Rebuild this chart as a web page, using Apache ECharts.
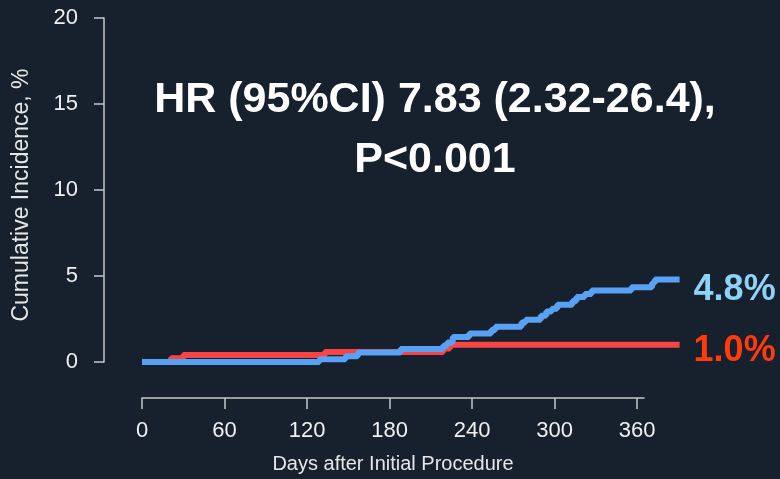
<!DOCTYPE html>
<html>
<head>
<meta charset="utf-8">
<script src="https://cdn.jsdelivr.net/npm/echarts@6/dist/echarts.min.js"></script>
<style>
  html, body { margin: 0; padding: 0; background: #17202d; }
  #chart { width: 780px; height: 479px; }
</style>
</head>
<body>
<div id="chart"></div>
<script>
// step points (day, cumulative %)
const blueDays = [0, 129, 148, 157, 188, 219, 222, 226, 238, 254, 257, 276, 279, 290, 294, 298, 302, 313, 316, 322, 327, 356, 371, 373, 391];
const blueValues = [0, 0.16, 0.33, 0.55, 0.76, 0.94, 1.13, 1.45, 1.66, 1.86, 2.05, 2.3, 2.46, 2.69, 2.94, 3.1, 3.33, 3.55, 3.78, 3.96, 4.16, 4.35, 4.6, 4.8, 4.8];
const redDays = [0, 21, 30, 133, 219, 224, 391];
const redValues = [0, 0.22, 0.4, 0.58, 0.78, 1.0, 1.0];

const xTicks = [0, 60, 120, 180, 240, 300, 360];
const yTicks = [0, 5, 10, 15, 20];

const titleLine1 = "HR (95%CI) 7.83 (2.32-26.4),";
const titleLine2 = "P<0.001";

const font = "'Liberation Sans', Arial, sans-serif";

const toPairs = (days, vals) => days.map((d, i) => [d, vals[i]]);

const chart = echarts.init(document.getElementById("chart"));

const option = {
  backgroundColor: "#17202d",
  animation: false,
  grid: [
    // data area: curves run a little past the drawn x axis
    { left: 142, width: 538, top: 18, height: 344 },
    // axis-only grid, 0..365 days
    { left: 142, width: 502, top: 18, height: 344 },
  ],
  xAxis: [
    { gridIndex: 0, type: "value", min: 0, max: 391.3, show: false },
    {
      gridIndex: 1,
      type: "value",
      min: 0,
      max: 365,
      offset: 39,
      splitLine: { show: false },
      axisLine: { show: true, onZero: false, lineStyle: { color: "#c8c8c8", width: 1.5 } },
      axisTick: { show: true, length: 11, customValues: xTicks, lineStyle: { color: "#c8c8c8", width: 1.5 } },
      axisLabel: { customValues: xTicks, margin: 22, color: "#f0f0f0", fontSize: 22, fontFamily: font },
      name: "Days after Initial Procedure",
      nameLocation: "middle",
      nameGap: 56,
      nameTextStyle: { color: "#e6e6e6", fontSize: 20, fontFamily: font },
    },
  ],
  yAxis: [
    {
      gridIndex: 0,
      type: "value",
      min: 0,
      max: 20,
      offset: 38,
      splitLine: { show: false },
      axisLine: { show: true, onZero: false, lineStyle: { color: "#c8c8c8", width: 1.5 } },
      axisTick: { show: true, length: 10, customValues: yTicks, lineStyle: { color: "#c8c8c8", width: 1.5 } },
      axisLabel: { customValues: yTicks, margin: 26, color: "#f0f0f0", fontSize: 22, fontFamily: font },
      name: "Cumulative Incidence, %",
      nameLocation: "middle",
      nameGap: 71,
      nameTextStyle: { color: "#e6e6e6", fontSize: 23, fontFamily: font, padding: [0, 10, 0, 0] },
    },
    { gridIndex: 1, type: "value", min: 0, max: 20, show: false },
  ],
  series: [
    {
      name: "red",
      type: "line",
      step: "end",
      xAxisIndex: 0,
      yAxisIndex: 0,
      showSymbol: false,
      data: toPairs(redDays, redValues),
      lineStyle: { color: "#f74444", width: 6 },
      endLabel: {
        show: true,
        distance: 14,
        offset: [0, 6],
        formatter: (p) => p.value[1].toFixed(1) + "%",
        color: "#ff3b0e",
        fontSize: 36,
        fontWeight: "bold",
        fontFamily: font,
      },
    },
    {
      name: "blue",
      type: "line",
      step: "end",
      xAxisIndex: 0,
      yAxisIndex: 0,
      showSymbol: false,
      data: toPairs(blueDays, blueValues),
      lineStyle: { color: "#58a1f4", width: 6 },
      endLabel: {
        show: true,
        distance: 14,
        offset: [0, 11],
        formatter: (p) => p.value[1].toFixed(1) + "%",
        color: "#8fd2f7",
        fontSize: 36,
        fontWeight: "bold",
        fontFamily: font,
      },
    },
  ],
  graphic: [
    {
      type: "text",
      x: 435,
      y: 100,
      style: {
        text: titleLine1,
        fill: "#ffffff",
        font: "bold 43px " + font,
        textAlign: "center",
        textVerticalAlign: "middle",
      },
    },
    {
      type: "text",
      x: 435,
      y: 160,
      style: {
        text: titleLine2,
        fill: "#ffffff",
        font: "bold 43px " + font,
        textAlign: "center",
        textVerticalAlign: "middle",
      },
    },
  ],
};

chart.setOption(option);
</script>
</body>
</html>
